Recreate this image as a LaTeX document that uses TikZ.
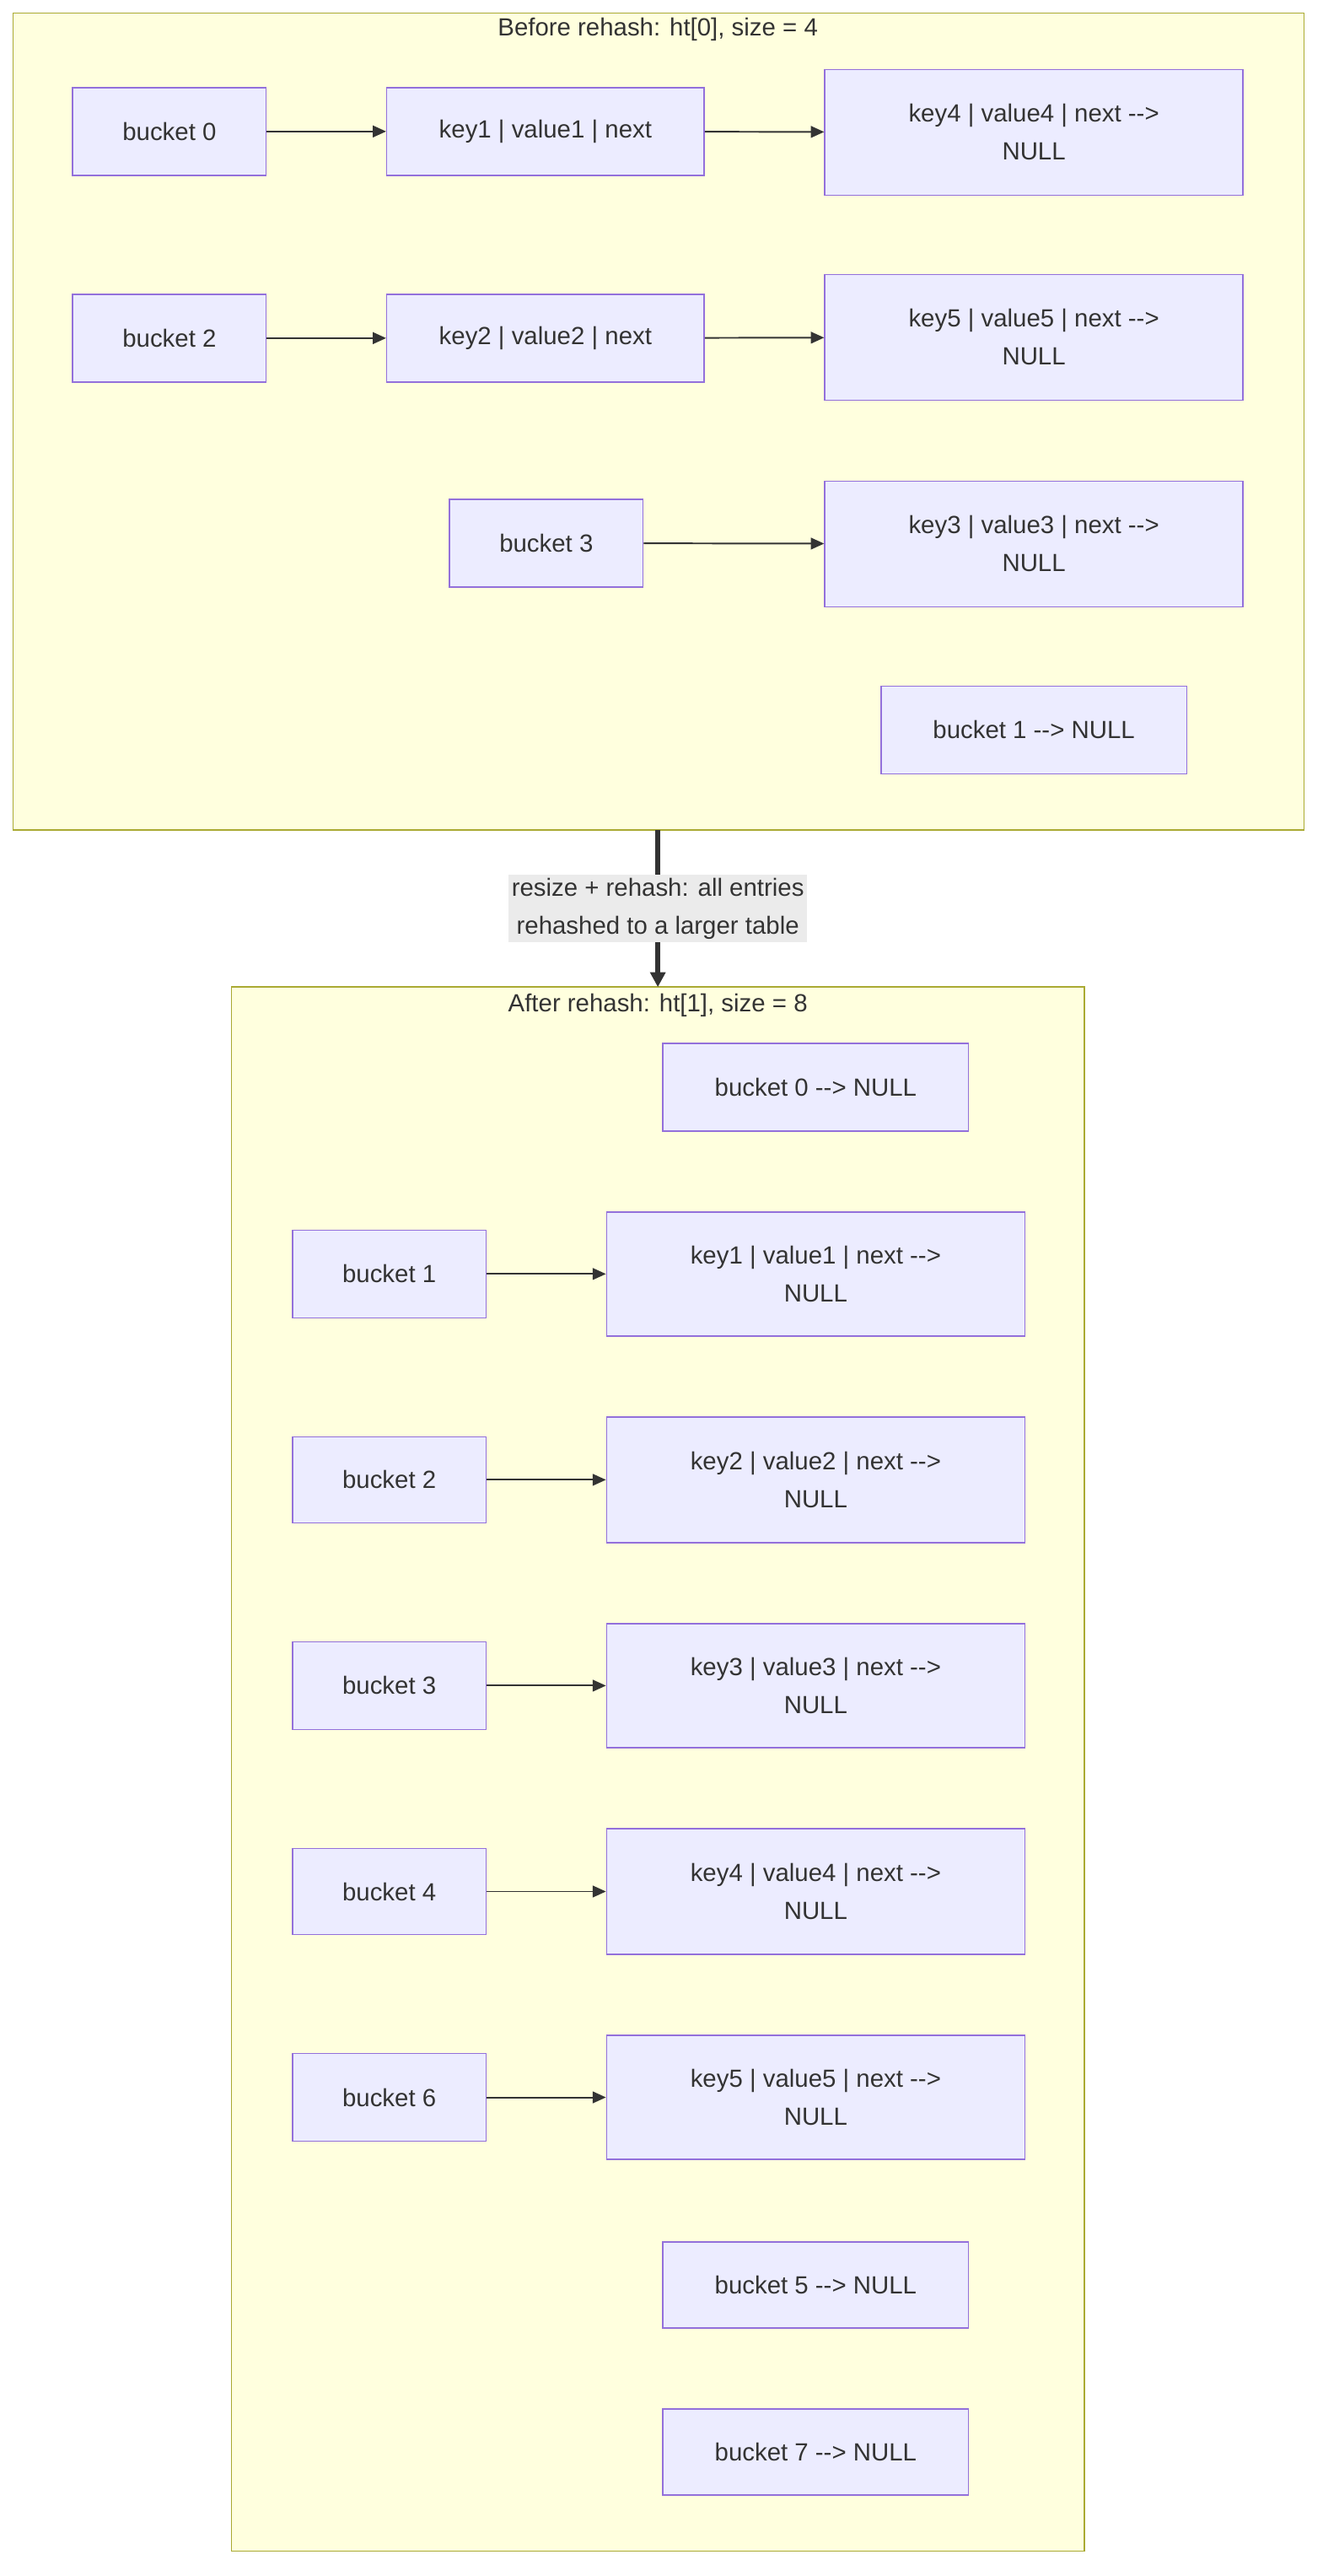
\documentclass[tikz,border=0pt]{standalone}
\usepackage{fontspec}
\setmainfont{Liberation Sans}
\usetikzlibrary{arrows.meta}
\definecolor{nfill}{HTML}{ECECFF}
\definecolor{nbord}{HTML}{9370DB}
\definecolor{cfill}{HTML}{FFFFDE}
\definecolor{cbord}{HTML}{AAAA33}
\definecolor{txt}{HTML}{333333}
\newcommand\myarr{-{}->}
\begin{document}
\begin{tikzpicture}[x=1pt,y=-1pt,font=\fontsize{15}{23}\selectfont,text=txt,
  box/.style={draw=nbord,fill=nfill,line width=0.8pt,inner sep=0pt,align=center},
  clus/.style={draw=cbord,fill=cfill,line width=0.8pt},
  link/.style={draw=txt,line width=1pt,-{Triangle[length=8pt,width=7pt]}}]
\useasboundingbox (0,0) rectangle (800,1558);
\newcommand\bx[6]{\node[box,minimum width=#4-#2,minimum height=#5-#3] (#1) at ({(#2+#4)/2},{(#3+#5)/2}) {#6};}
% cluster 1
\draw[clus] (8,8) rectangle (789,502);
\node (t1) at (398,18) {Before rehash: ht[0], size = 4};
\bx{a0}{44}{53}{161}{106}{bucket 0}
\bx{a1}{234}{53}{426}{106}{key1 | value1 | next}
\bx{a4}{499}{42}{752}{118}{key4 | value4 | next \myarr\\NULL}
\bx{a2}{44}{178}{161}{231}{bucket 2}
\bx{a2k}{234}{178}{426}{231}{key2 | value2 | next}
\bx{a5}{499}{166}{752}{242}{key5 | value5 | next \myarr\\NULL}
\bx{a3}{272}{302}{389}{355}{bucket 3}
\bx{a3k}{499}{291}{752}{367}{key3 | value3 | next \myarr\\NULL}
\bx{ab1}{533}{415}{718}{468}{bucket 1 \myarr{} NULL}
\draw[link] (a0) -- (a1);
\draw[link] (a1) -- (a4);
\draw[link] (a2) -- (a2k);
\draw[link] (a2k) -- (a5);
\draw[link] (a3) -- (a3k);
% cluster 2
\draw[clus] (140,597) rectangle (656,1543);
\coordinate (c1b) at (398,502);
\coordinate (c2t) at (398,597);
\draw[draw=txt,line width=3pt,-{Triangle[length=9pt,width=9pt]}] (c1b) -- (c2t);
\node[fill=black!8,inner sep=2pt,align=center] (lbl) at (398,549.5) {resize + rehash: all entries\\rehashed to a larger table};
\node (t2) at (398,608) {After rehash: ht[1], size = 8};
\bx{b0}{401}{631}{586}{684}{bucket 0 \myarr{} NULL}
\bx{b1}{177}{744}{294}{797}{bucket 1}
\bx{e1}{367}{733}{620}{808}{key1 | value1 | next \myarr\\NULL}
\bx{b2}{177}{869}{294}{921}{bucket 2}
\bx{e2}{367}{857}{620}{933}{key2 | value2 | next \myarr\\NULL}
\bx{b3}{177}{993}{294}{1046}{bucket 3}
\bx{e3}{367}{982}{620}{1057}{key3 | value3 | next \myarr\\NULL}
\bx{b4}{177}{1118}{294}{1170}{bucket 4}
\bx{e4}{367}{1106}{620}{1182}{key4 | value4 | next \myarr\\NULL}
\bx{b6}{177}{1242}{294}{1295}{bucket 6}
\bx{e5}{367}{1231}{620}{1306}{key5 | value5 | next \myarr\\NULL}
\bx{b5}{401}{1356}{586}{1408}{bucket 5 \myarr{} NULL}
\bx{b7}{401}{1457}{586}{1509}{bucket 7 \myarr{} NULL}
\draw[link] (b1) -- (e1);
\draw[link] (b2) -- (e2);
\draw[link] (b3) -- (e3);
\draw[link] (b4) -- (e4);
\draw[link] (b6) -- (e5);
\end{tikzpicture}
\end{document}
